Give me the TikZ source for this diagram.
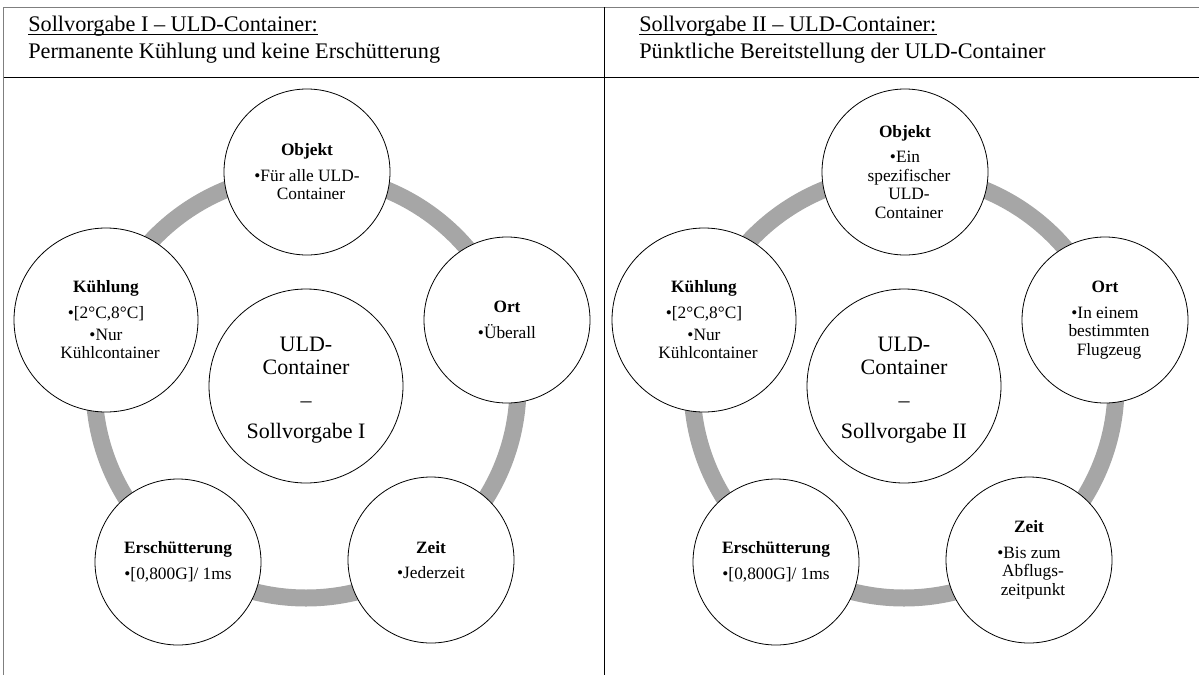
\documentclass[tikz,border=0pt]{standalone}
\usepackage{fontspec}
\setmainfont{Liberation Serif}
\definecolor{ringgray}{HTML}{A6A6A6}
\definecolor{framegray}{HTML}{7F7F7F}
% shifts a wrapped bullet line to the hanging indent
\newcommand\wrapind{\hspace*{6pt}}
% extra head room above the first line of the hub text
\newcommand\hubtop{\rule{0pt}{17pt}}
\tikzset{
  ring/.style={line width=12.75pt, draw=ringgray},
  item/.style={circle, draw=black, line width=0.6pt, fill=white,
    minimum size=124.5pt, inner sep=0pt, align=center,
    font=\fontsize{13pt}{13.9pt}\selectfont},
  bigitem/.style={item, minimum size=138pt},
  hub/.style={item, minimum size=145.5pt,
    font=\fontsize{16.5pt}{17.25pt}\selectfont},
  headtext/.style={anchor=base west, inner sep=0pt,
    font=\fontsize{16.7pt}{18pt}\selectfont},
  outerline/.style={line width=0.75pt, draw=framegray},
  innerline/.style={line width=0.75pt, draw=black},
  uline/.style={line width=0.7pt, draw=black},
}
\begin{document}
\begin{tikzpicture}[x=0.75pt, y=-0.75pt]
\useasboundingbox (0,0) rectangle (1199,675);

% table frame
\draw[outerline] (3.5,7) -- (1199,7);
\draw[outerline] (3.5,7) -- (3.5,675);
\draw[innerline] (3.5,77) -- (1199,77);
\draw[innerline] (604,7) -- (604,675);

% column headers
\node[headtext] (lh1) at (28,31) {Sollvorgabe I – ULD-Container:};
\node[headtext] (lh2) at (28,58) {Permanente Kühlung und keine Erschütterung};
\draw[uline] ([yshift=-2.4pt]lh1.base west) -- ([yshift=-2.4pt]lh1.base east);
\node[headtext] (rh1) at (639,31) {Sollvorgabe II – ULD-Container:};
\node[headtext] (rh2) at (639,58) {Pünktliche Bereitstellung der ULD-Container};
\draw[uline] ([yshift=-2.4pt]rh1.base west) -- ([yshift=-2.4pt]rh1.base east);

% left cycle
\draw[ring] (306,386) circle[radius=212];
\node[hub] (lhub) at (306,386) {\hubtop ULD-\\Container\\[7.5pt]–\\[6pt]Sollvorgabe I};
\node[item] (lobj) at (307,172) {\textbf{Objekt}\\[5.2pt]•Für alle ULD-\\\wrapind Container};
\node[item] (lort) at (507,320) {\textbf{Ort}\\[5.2pt]•Überall};
\node[item] (lzeit) at (431,560) {\textbf{Zeit}\\[5.2pt]•Jederzeit};
\node[item] (lers) at (178,562) {\textbf{Erschütterung}\\[5.2pt]•[0,800G]/ 1ms};
\node[bigitem] (lkue) at (106,320) {\textbf{Kühlung}\\[5.2pt]•[2°C,8°C]\\[2.6pt]•Nur\\\wrapind Kühlcontainer};

% right cycle
\begin{scope}[shift={(598,0)}]
\draw[ring] (306,386) circle[radius=212];
\node[hub] (rhub) at (306,386) {\hubtop ULD-\\Container\\[7.5pt]–\\[6pt]Sollvorgabe II};
\node[item] (robj) at (307,172) {\textbf{Objekt}\\[5.2pt]•Ein\\\wrapind spezifischer\\\wrapind ULD-\\\wrapind Container};
\node[item] (rort) at (507,320) {\textbf{Ort}\\[5.2pt]•In einem\\\wrapind bestimmten\\\wrapind Flugzeug};
\node[item] (rzeit) at (431,560) {\textbf{Zeit}\\[5.2pt]•Bis zum\\\wrapind Abflugs-\\\wrapind zeitpunkt};
\node[item] (rers) at (178,562) {\textbf{Erschütterung}\\[5.2pt]•[0,800G]/ 1ms};
\node[bigitem] (rkue) at (106,320) {\textbf{Kühlung}\\[5.2pt]•[2°C,8°C]\\[2.6pt]•Nur\\\wrapind Kühlcontainer};
\end{scope}
\end{tikzpicture}
\end{document}
